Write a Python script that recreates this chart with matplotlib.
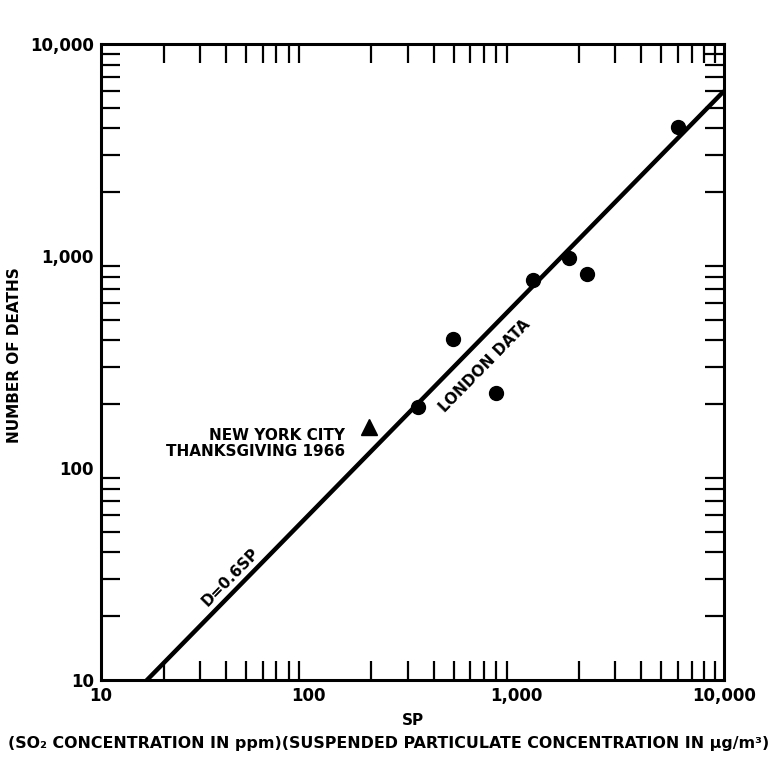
import matplotlib
matplotlib.use("Agg")
import matplotlib.pyplot as plt
from matplotlib.ticker import FixedLocator, NullFormatter, LogLocator

plt.rcParams['font.family'] = ['DejaVu Sans']

# Data
london_sp = [336, 493, 798, 1202, 1792, 2188, 5998]
london_deaths = [194, 406, 226, 771, 979, 822, 4055]
nyc_sp = [195]
nyc_deaths = [156]
fit_coef = 0.6
fit_sp = [10, 10000]
fit_deaths = [fit_coef * v for v in fit_sp]

major_vals = [10, 100, 1000, 10000]
major_labels = ['10', '100', '1,000', '10,000']

fig = plt.figure(figsize=(7.78, 7.6), dpi=100)
ax = fig.add_axes([0.1298, 0.1053, 0.8008, 0.8368])
ax.set_xscale('log')
ax.set_yscale('log')
ax.set_xlim(10, 10000)
ax.set_ylim(10, 10000)

ax.plot(fit_sp, fit_deaths, color='black', lw=3.2, solid_capstyle='butt', zorder=2)
ax.plot(london_sp, london_deaths, 'o', color='black', ms=10, zorder=3)
ax.plot(nyc_sp, nyc_deaths, '^', color='black', ms=11, zorder=3)

for s in ax.spines.values():
    s.set_linewidth(2.2)

ax.xaxis.set_major_locator(FixedLocator(major_vals))
ax.yaxis.set_major_locator(FixedLocator(major_vals))
ax.set_xticklabels(major_labels)
ax.set_yticklabels(major_labels)
ax.xaxis.set_minor_locator(LogLocator(base=10, subs=range(2, 10)))
ax.yaxis.set_minor_locator(LogLocator(base=10, subs=range(2, 10)))
ax.xaxis.set_minor_formatter(NullFormatter())
ax.yaxis.set_minor_formatter(NullFormatter())

ax.tick_params(which='major', length=0, labelsize=12, pad=5)
ax.tick_params(which='minor', direction='in', length=14, width=1.6,
               top=True, right=True, bottom=True, left=True)
for lab in ax.get_xticklabels() + ax.get_yticklabels():
    lab.set_fontweight('bold')

ax.set_xlabel('SP', fontsize=11, fontweight='bold')
ax.xaxis.set_label_coords(0.5, -0.052)
ax.set_ylabel('NUMBER OF DEATHS', fontsize=11, fontweight='bold')
ax.yaxis.set_label_coords(-0.127, 0.511)

fig.text(0.5, 0.022,
         '(SO\u2082 CONCENTRATION IN ppm)(SUSPENDED PARTICULATE CONCENTRATION IN \u03bcg/m\u00b3)',
         ha='center', va='center', fontsize=11.4, fontweight='bold')

ax.text(150, 131, 'NEW YORK CITY\nTHANKSGIVING 1966', ha='right', va='center',
        fontsize=11, fontweight='bold', linespacing=1.1, multialignment='right')
ax.text(41.8, 30.6, 'D=0.6SP', rotation=45.6, ha='center', va='center',
        fontsize=11, fontweight='bold', rotation_mode='anchor')
ax.text(706, 303, 'LONDON DATA', rotation=45.6, ha='center', va='center',
        fontsize=11, fontweight='bold', rotation_mode='anchor')

fig.savefig('out.png', dpi=100, facecolor='white')
